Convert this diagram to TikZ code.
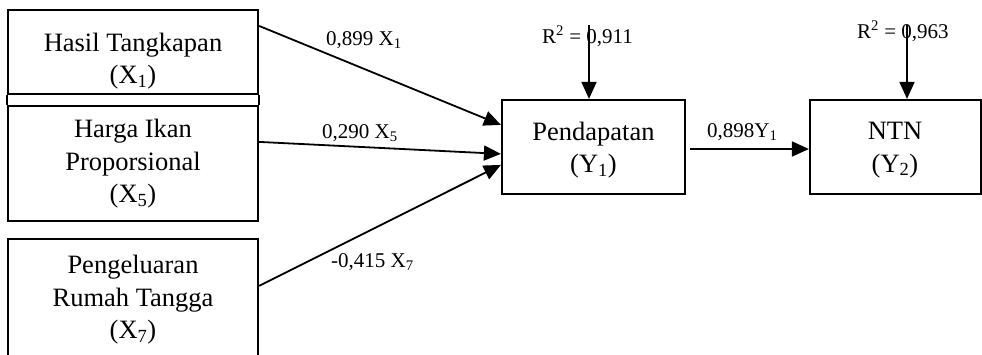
\documentclass[tikz,border=0pt]{standalone}
\usepackage{fontspec}
\setmainfont{Liberation Serif}
\usetikzlibrary{arrows.meta}
\tikzset{
  boxnode/.style={draw, line width=2.2pt, rectangle, inner sep=0pt},
  boxtext/.style={align=center, inner sep=0pt, font=\fontsize{26.5}{32.5}\selectfont},
  lbl/.style={inner sep=0pt, anchor=base west, font=\fontsize{21}{24}\selectfont},
  conn/.style={line width=1.8pt, -{Triangle[length=17pt,width=15pt]}},
}
\begin{document}
\begin{tikzpicture}[x=1pt,y=-1pt]
\useasboundingbox (0,0) rectangle (982,354);
% boxes
\node[boxnode, minimum width=250pt, minimum height=84pt] (x1) at (133,52) {};
\node[boxnode, minimum width=250pt, minimum height=115pt] (x5) at (133,163.5) {};
\node[boxnode, minimum width=250pt, minimum height=131pt] (x7) at (133,304.5) {};
\node[boxnode, minimum width=183pt, minimum height=94pt] (pend) at (593.5,147) {};
\node[boxnode, minimum width=171pt, minimum height=94pt] (ntn) at (895.5,147) {};
\draw[line width=2.2pt] (x1.south west) -- (x5.north west);
\draw[line width=2.2pt] (x1.south east) -- (x5.north east);
% box texts
\node[boxtext] (x1t) at (133,61) {Hasil Tangkapan\\(X\textsubscript{1})};
\node[boxtext] (x5t) at (133,164) {Harga Ikan\\Proporsional\\(X\textsubscript{5})};
\node[boxtext] (x7t) at (133,300) {Pengeluaran\\Rumah Tangga\\(X\textsubscript{7})};
\node[boxtext] (pendt) at (593.5,150) {Pendapatan\\(Y\textsubscript{1})};
\node[boxtext] (ntnt) at (895,150) {NTN\\(Y\textsubscript{2})};
% labels
\node[lbl] (l1) at (326,45) {0,899 X\textsubscript{1}};
\node[lbl] (l5) at (322,138) {0,290 X\textsubscript{5}};
\node[lbl] (l7) at (331,267) {-0,415 X\textsubscript{7}};
\node[lbl] (r1l) at (542,43) {R\textsuperscript{2} = 0,911};
\node[lbl] (r2l) at (857,38) {R\textsuperscript{2} = 0,963};
\node[lbl] (ly) at (707,137) {0,898Y\textsubscript{1}};
% connectors
\draw[conn] ([yshift=-17pt]x1.north east) -- ([yshift=-26pt]pend.north west);
\draw[conn] ([yshift=-37pt]x5.north east) -- ([yshift=-55pt]pend.north west);
\draw[conn] ([yshift=-48pt]x7.north east) -- ([yshift=-66pt]pend.north west);
\draw[conn] ([yshift=-2pt,xshift=4pt]pend.east) -- ([yshift=-2pt]ntn.west);
\coordinate (r1) at (589,25);
\coordinate (r2) at (907,25);
\draw[conn] (r1) -- (r1 |- pend.north);
\draw[conn] (r2) -- (r2 |- ntn.north);
\end{tikzpicture}
\end{document}
